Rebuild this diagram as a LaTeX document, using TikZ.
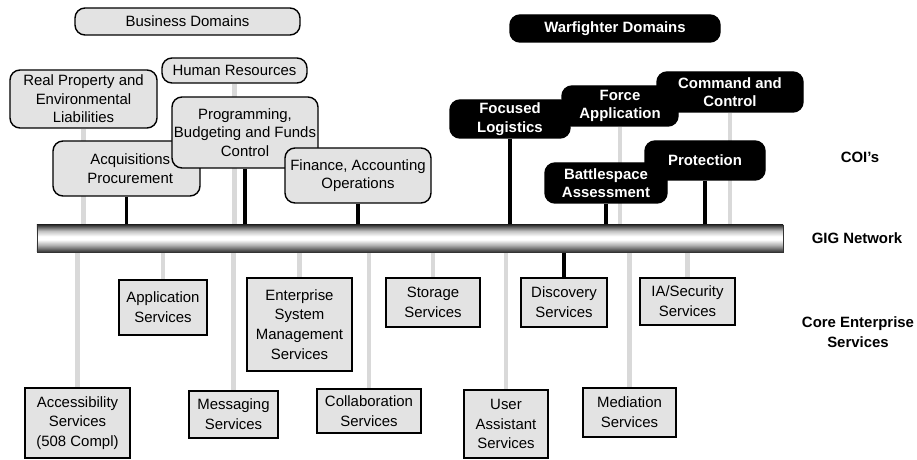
\documentclass[tikz,border=0pt]{standalone}
\usepackage{fontspec}
\setmainfont{Liberation Sans}
\usepackage{tikz}
\usetikzlibrary{backgrounds}

\pgfdeclareverticalshading{gigtube}{100bp}{color(0bp)=(black!80); color(25bp)=(black!80); color(38bp)=(gray!60); color(48bp)=(white); color(54bp)=(white); color(64bp)=(gray!50); color(75bp)=(black!80); color(100bp)=(black!80)}

\begin{document}
\begin{tikzpicture}[
    x=0.2mm, y=-0.2mm,
    font=\fontsize{8.5}{10.5}\selectfont,
    bizbox/.style={draw, fill=gray!22, rounded corners=2mm, line width=0.8pt, align=center, inner sep=0pt},
    warbox/.style={draw, fill=black, text=white, rounded corners=2mm, line width=0.8pt, align=center, inner sep=0pt, font=\fontsize{8.5}{10.5}\selectfont\bfseries},
    svcbox/.style={draw, fill=gray!22, line width=1.1pt, align=center, inner sep=0pt, font=\fontsize{8.5}{11.3}\selectfont},
    gigbar/.style={draw=gray!40!black, line width=0.4pt, shading=gigtube, inner sep=0pt},
    darkstem/.style={black, line width=2.2pt},
    lightstem/.style={gray!30, line width=2.6pt},
    sidelabel/.style={align=center, font=\fontsize{8.5}{11}\selectfont\bfseries}
]

\useasboundingbox (0,0) rectangle (917,460);

% GIG network bar
\node[gigbar, minimum width=149.2mm, minimum height=5.4mm] (gig) at (410,238.5) {};

% Business domains (COI's)
\node[bizbox, minimum width=45mm, minimum height=5.4mm] (busdom) at (187.5,21.5) {Business Domains};
\node[bizbox, minimum width=29.4mm, minimum height=11.6mm] (realprop) at (83.5,99) {Real Property and\\Environmental\\Liabilities};
\node[bizbox, minimum width=29mm, minimum height=5mm] (humres) at (234.5,70.5) {Human Resources};
\node[bizbox, minimum width=29.4mm, minimum height=11mm] (acqproc) at (126.5,168.5) {\hspace*{0.5em}Acquisitions\\\hspace*{0.5em}Procurement};
\node[bizbox, minimum width=29.2mm, minimum height=14.2mm] (progbud) at (245,132.5) {Programming,\\Budgeting and Funds\\Control};
\node[bizbox, minimum width=29.2mm, minimum height=11mm] (finacc) at (358,175.5) {Finance, Accounting\\Operations};

% Warfighter domains (COI's)
\node[warbox, minimum width=42mm, minimum height=5.4mm] (wardom) at (615,28.5) {Warfighter Domains};
\node[warbox, minimum width=23.2mm, minimum height=8mm] (forceapp) at (620,106) {Force\\Application};
\node[warbox, minimum width=24mm, minimum height=7.6mm] (foclog) at (510,119) {Focused\\Logistics};
\node[warbox, minimum width=29.2mm, minimum height=8mm] (cmdctrl) at (730,92) {Command and\\Control};
\node[warbox, minimum width=24mm, minimum height=7.8mm] (protect) at (705,160.5) {Protection};
\node[warbox, minimum width=24.4mm, minimum height=8mm] (bspace) at (606,183) {Battlespace\\Assessment};

% Core enterprise services
\node[svcbox, minimum width=21mm, minimum height=14mm] (access) at (77.5,423) {Accessibility\\Services\\(508 Compl)};
\node[svcbox, minimum width=17.6mm, minimum height=11mm] (appsvc) at (163,307.5) {Application\\Services};
\node[svcbox, minimum width=17.8mm, minimum height=9.4mm] (msgsvc) at (233.5,414.5) {Messaging\\Services};
\node[svcbox, minimum width=21mm, minimum height=18.6mm] (esmsvc) at (299.5,324.5) {Enterprise\\System\\Management\\Services};
\node[svcbox, minimum width=20.8mm, minimum height=8.8mm] (collab) at (369,411) {Collaboration\\Services};
\node[svcbox, minimum width=18.8mm, minimum height=9.8mm] (storage) at (433,302.5) {Storage\\Services};
\node[svcbox, minimum width=17.2mm, minimum height=9.8mm] (discov) at (564,302.5) {Discovery\\Services};
\node[svcbox, minimum width=19mm, minimum height=9.4mm] (iasec) at (687.5,301.5) {IA/Security\\Services};
\node[svcbox, minimum width=16.8mm, minimum height=13.6mm] (userasst) at (506,424) {User\\Assistant\\Services};
\node[svcbox, minimum width=18.6mm, minimum height=9.8mm] (mediate) at (629.5,412.5) {Mediation\\Services};

% Stems to the bar (behind the boxes)
\begin{pgfonlayer}{background}
\draw[lightstem] (realprop.south) -- (realprop.south |- gig.north);
\draw[darkstem] (acqproc.south) -- (acqproc.south |- gig.north);
\draw[lightstem] (humres.south) -- (humres.south |- gig.north);
\draw[darkstem] (progbud.south) -- (progbud.south |- gig.north);
\draw[darkstem] (finacc.south) -- (finacc.south |- gig.north);

\draw[darkstem] (foclog.south) -- (foclog.south |- gig.north);
\draw[lightstem] (forceapp.south) -- (forceapp.south |- gig.north);
\draw[darkstem] (bspace.south) -- (bspace.south |- gig.north);
\draw[darkstem] (protect.south) -- (protect.south |- gig.north);
\draw[lightstem] (cmdctrl.south) -- (cmdctrl.south |- gig.north);

\draw[lightstem] (access.north) -- (access.north |- gig.south);
\draw[lightstem] (appsvc.north) -- (appsvc.north |- gig.south);
\draw[lightstem] (msgsvc.north) -- (msgsvc.north |- gig.south);
\draw[lightstem] (esmsvc.north) -- (esmsvc.north |- gig.south);
\draw[lightstem] (collab.north) -- (collab.north |- gig.south);
\draw[lightstem] (storage.north) -- (storage.north |- gig.south);
\draw[darkstem] (discov.north) -- (discov.north |- gig.south);
\draw[lightstem] (iasec.north) -- (iasec.north |- gig.south);
\draw[lightstem] (userasst.north) -- (userasst.north |- gig.south);
\draw[lightstem] (mediate.north) -- (mediate.north |- gig.south);
\end{pgfonlayer}

% Side labels
\node[sidelabel] (coilbl) at (860,157) {COI's};
\node[sidelabel] (giglbl) at (857,238) {GIG Network};
\node[sidelabel] (cesllbl) at (858,332) {Core Enterprise\\Services};

\end{tikzpicture}
\end{document}
